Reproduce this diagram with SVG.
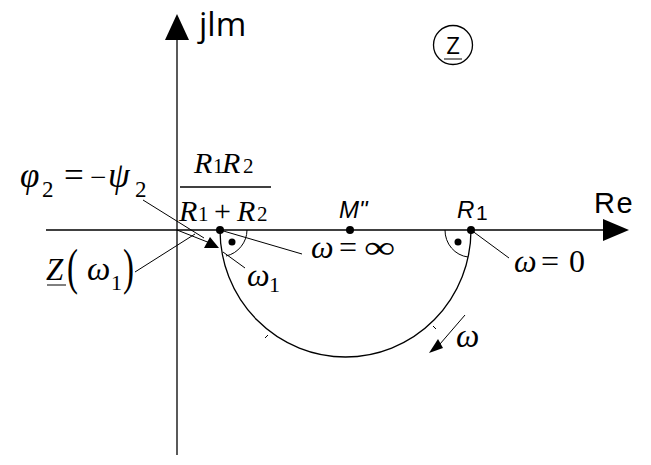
<svg xmlns="http://www.w3.org/2000/svg" width="651" height="465" viewBox="0 0 651 465">
<style>
.ln{stroke:#000;stroke-width:1.3;fill:none}
.thin{stroke:#000;stroke-width:1;fill:none}
.fill{fill:#000;stroke:none}
.m{font-family:"Liberation Serif","Times New Roman",serif;font-style:italic;fill:#000}
.r{font-family:"Liberation Serif","Times New Roman",serif;font-style:normal;fill:#000}
.s{font-family:"Liberation Sans",Arial,sans-serif;fill:#000}
.it{font-style:italic}
</style>
<rect width="651" height="465" fill="#fff"/>
<g id="axes">
<line class="ln" x1="177" y1="455" x2="177" y2="38"/>
<polygon class="fill" points="177,14 165,40 189,40"/>
<line class="ln" x1="46" y1="230" x2="606" y2="230"/>
<polygon class="fill" points="629,230 603,219 603,241"/>
<text x="199" y="36" font-family="'Open Sans',sans-serif" font-size="33">jlm</text>
<text class="s" x="594" y="213" font-size="29" letter-spacing="1.5">Re</text>
</g>
<g id="z-symbol">
<circle class="ln" cx="453" cy="45" r="19.5"/>
<text x="453" y="54" text-anchor="middle" font-family="'Open Sans',sans-serif" font-size="24">Z</text>
<line class="thin" x1="444" y1="59" x2="462" y2="59"/>
</g>
<g id="locus">
<path class="ln" d="M220,230 A125.5 127 0 0 0 471,230"/>
<line class="thin" x1="268" y1="335" x2="265" y2="338"/>
<line class="thin" x1="433" y1="326" x2="436" y2="329"/>
</g>
<g id="point-left">
<circle class="fill" cx="220" cy="230" r="4"/>
<path class="thin" d="M247,230 A27 27 0 0 1 226,256"/>
<circle class="fill" cx="232" cy="242" r="3.5"/>
</g>
<g id="point-M">
<circle class="fill" cx="350" cy="230" r="4"/>
<text class="s" x="339" y="218" font-size="24" font-style="italic">M"</text>
</g>
<g id="point-R1">
<circle class="fill" cx="471" cy="230" r="4"/>
<path class="thin" d="M445,230 A26 27 0 0 0 468,257"/>
<circle class="fill" cx="458" cy="242" r="3.5"/>
<text class="s" x="457" y="218" font-size="24"><tspan class="it">R</tspan><tspan x="476" y="220" font-size="21">1</tspan></text>
</g>
<g id="connectors">
<line class="thin" x1="143" y1="200" x2="204" y2="238"/>
<line class="thin" x1="135" y1="272" x2="195" y2="234"/>
<line class="thin" x1="177" y1="230" x2="210" y2="243"/>
<polygon class="fill" points="219,248 204,248 210,237"/>
<line class="thin" x1="220" y1="230" x2="302" y2="254"/>
<line class="thin" x1="223" y1="252" x2="245" y2="268"/>
<line class="thin" x1="471" y1="230" x2="509" y2="258"/>
<line class="thin" x1="465" y1="315" x2="440" y2="344"/>
<polygon class="fill" points="429,353 443,348 438,339"/>
</g>
<g id="fraction">
<text class="r" y="173" font-size="21"><tspan class="it" x="194" font-size="30">R</tspan><tspan x="213">1</tspan><tspan class="it" x="222" font-size="30">R</tspan><tspan x="243">2</tspan></text>
<line class="ln" x1="180" y1="187" x2="271" y2="187"/>
<text class="r" y="221" font-size="21"><tspan class="it" x="179" font-size="30">R</tspan><tspan x="198">1</tspan><tspan x="214" font-size="30">+</tspan><tspan class="it" x="237" font-size="30">R</tspan><tspan x="257">2</tspan></text>
</g>
<g id="phi-label">
<text class="r" y="187" font-size="35"><tspan class="it" x="20">φ</tspan><tspan x="42" y="197" font-size="23">2</tspan><tspan x="64" y="187">=</tspan><tspan x="90" y="187" font-size="29">−</tspan><tspan class="it" x="108" y="187">ψ</tspan><tspan x="135" y="197" font-size="23">2</tspan></text>
</g>
<g id="z-omega1-label">
<text class="r" y="280" font-size="31"><tspan class="it" x="46">Z</tspan><tspan x="67" y="284" font-size="50" textLength="11" lengthAdjust="spacingAndGlyphs">(</tspan><tspan class="it" x="87" y="280" font-size="33">ω</tspan><tspan x="111" y="290" font-size="22">1</tspan><tspan x="123" y="284" font-size="50" textLength="11" lengthAdjust="spacingAndGlyphs">)</tspan></text>
<line class="thin" x1="47" y1="285" x2="66" y2="285"/>
</g>
<g id="omega-inf-label">
<text class="r" y="258" font-size="32"><tspan class="it" x="311">ω</tspan><tspan x="339">=</tspan><tspan x="364" textLength="31" lengthAdjust="spacingAndGlyphs">∞</tspan></text>
</g>
<g id="omega-zero-label">
<text class="r" y="272" font-size="32"><tspan class="it" x="514">ω</tspan><tspan x="541">=</tspan><tspan x="569">0</tspan></text>
</g>
<g id="omega1-label">
<text class="r" y="286" font-size="32"><tspan class="it" x="247">ω</tspan><tspan x="269" y="292" font-size="22">1</tspan></text>
</g>
<g id="omega-arrow-label">
<text class="m" x="456" y="347" font-size="33">ω</text>
</g>
</svg>
